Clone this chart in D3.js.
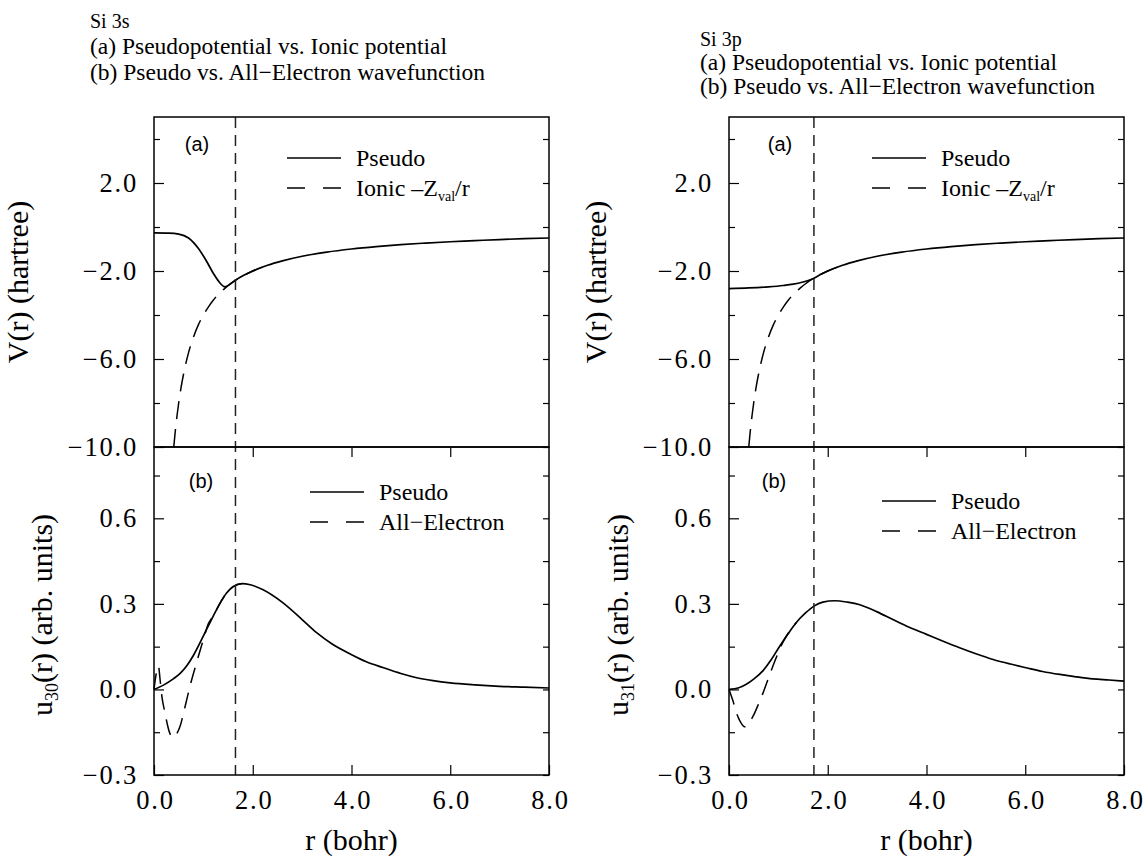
<!DOCTYPE html>
<html>
<head>
<meta charset="utf-8">
<script src="https://cdn.jsdelivr.net/npm/d3@7"></script>
<style>
  body { margin: 0; background: #fff; }
  svg text { font-family: "Liberation Serif", "Times New Roman", serif; fill: #000; }
  svg text.tag { font-family: "Liberation Sans", Arial, sans-serif; }
</style>
</head>
<body>
<svg id="chart" width="1147" height="857"></svg>
<script>
// Si 3s / 3p pseudopotentials and wavefunctions, two columns of stacked panels.

// axes
const rTicks = [0, 2, 4, 6, 8];
const rInner = [2, 4, 6];
const vMajor = [2, -2, -6, -10];
const vMinor = [4, 0, -4, -8];
const uMajor = [0.6, 0.3, 0, -0.3];
const uMinor = [0.75, 0.45, 0.15, -0.15];

// cutoff radii (bohr)
const rc3s = 1.65;
const rc3p = 1.72;

// potentials [r, V]
const ionicV = [[0.40,-10],[0.43,-9.3],[0.47,-8.51],[0.5,-8.0],[0.55,-7.27],[0.6,-6.67],[0.7,-5.71],
  [0.8,-5.0],[0.9,-4.44],[1.0,-4.0],[1.1,-3.64],[1.2,-3.33],[1.3,-3.08],[1.44,-2.78],[1.55,-2.58],
  [1.65,-2.42],[1.8,-2.22],[2.0,-2.0],[2.3,-1.74]];
const pseudoV3s = [[0,-0.27],[0.3,-0.28],[0.5,-0.32],[0.7,-0.5],[0.9,-0.98],[1.05,-1.5],[1.2,-2.1],
  [1.32,-2.5],[1.44,-2.72],[1.55,-2.58],[1.65,-2.42],[1.8,-2.22],[2.0,-2.0],[2.3,-1.74],[2.6,-1.54],
  [3.0,-1.33],[3.5,-1.14],[4.0,-1.0],[4.5,-0.89],[5.0,-0.8],[5.5,-0.73],[6.0,-0.67],[6.5,-0.62],
  [7.0,-0.57],[7.5,-0.53],[8.0,-0.5]];
const pseudoV3p = [[0,-2.8],[0.4,-2.77],[0.8,-2.72],[1.1,-2.66],[1.3,-2.6],[1.5,-2.5],[1.62,-2.42],
  [1.72,-2.33],[1.85,-2.16],[2.0,-2.0],[2.3,-1.74],[2.6,-1.54],[3.0,-1.33],[3.5,-1.14],[4.0,-1.0],
  [4.5,-0.89],[5.0,-0.8],[5.5,-0.73],[6.0,-0.67],[6.5,-0.62],[7.0,-0.57],[7.5,-0.53],[8.0,-0.5]];

// radial wavefunctions [r, u]
const pseudoU30 = [[0,0],[0.2,0.016],[0.39,0.037],[0.53,0.056],[0.66,0.082],[0.8,0.12],[0.93,0.163],
  [1.07,0.212],[1.2,0.257],[1.33,0.3],[1.47,0.338],[1.6,0.36],[1.78,0.371],[1.95,0.367],[2.2,0.35],
  [2.6,0.305],[3.0,0.245],[3.3,0.198],[3.6,0.16],[4.0,0.122],[4.3,0.097],[4.65,0.076],[5.0,0.056],
  [5.3,0.042],[5.65,0.031],[6.0,0.023],[6.5,0.016],[7.0,0.011],[7.5,0.008],[8.0,0.005]];
const aeU30 = [[0,0],[0.04,0.05],[0.09,0.082],[0.12,0.04],[0.16,-0.025],[0.22,-0.08],[0.28,-0.13],
  [0.33,-0.158],[0.39,-0.169],[0.45,-0.158],[0.53,-0.128],[0.63,-0.06],[0.73,0.012],[0.86,0.093],
  [1.0,0.175],[1.1,0.23],[1.2,0.258],[1.33,0.3],[1.47,0.338],[1.6,0.36],[1.78,0.371]];
const pseudoU31 = [[0,0],[0.2,0.006],[0.35,0.018],[0.5,0.036],[0.69,0.066],[0.85,0.103],[1.03,0.152],
  [1.2,0.196],[1.36,0.234],[1.55,0.268],[1.72,0.292],[1.9,0.306],[2.14,0.311],[2.4,0.306],[2.65,0.297],
  [3.0,0.272],[3.32,0.245],[3.65,0.218],[4.0,0.193],[4.35,0.168],[4.67,0.146],[5.0,0.125],[5.35,0.105],
  [5.7,0.089],[6.02,0.076],[6.35,0.063],[6.7,0.0525],[7.0,0.045],[7.37,0.037],[7.7,0.033],[8.0,0.029]];
const aeU31 = [[0,0],[0.08,-0.04],[0.15,-0.082],[0.22,-0.11],[0.32,-0.131],[0.4,-0.118],[0.49,-0.093],
  [0.6,-0.05],[0.69,-0.012],[0.8,0.04],[0.89,0.082],[1.0,0.13],[1.09,0.165],[1.2,0.197],[1.36,0.234]];

// text
const titles3s = ["Si 3s", "(a) Pseudopotential vs. Ionic potential", "(b) Pseudo vs. All\u2212Electron wavefunction"];
const titles3p = ["Si 3p", "(a) Pseudopotential vs. Ionic potential", "(b) Pseudo vs. All\u2212Electron wavefunction"];
const legendV = ["Pseudo", "Ionic \u2013Z"];
const legendU = ["Pseudo", "All\u2212Electron"];

const svg = d3.select('#chart');
const PW = 395, TOP = 117, MID = 447, BOT = 775;
const fmt = d3.format('.1f');

const columns = [
  { x0: 154, titles: titles3s, tx: 90, ty: [28, 54, 80], rc: rc3s, pV: pseudoV3s, iV: ionicV,
    pU: pseudoU30, aU: aeU30, sub: '30', legA: [287, 158], legB: [310, 492],
    labA: [197, 144], labB: [201, 481], ylab: [28, 52] },
  { x0: 729, titles: titles3p, tx: 700, ty: [46, 70, 94], rc: rc3p, pV: pseudoV3p, iV: ionicV,
    pU: pseudoU31, aU: aeU31, sub: '31', legA: [872, 158], legB: [882, 501],
    labA: [780, 144], labB: [774, 481], ylab: [606, 628] }
];

function styleAxis(g) {
  g.select('.domain').remove();
  g.selectAll('.tick line').attr('stroke', '#000').attr('stroke-width', 1.2);
  g.selectAll('.tick text').style('font-size', '26.5px').style('letter-spacing', '1.8px');
}

function legend(x, y, labels, withSub) {
  const g = svg.append('g');
  g.append('line').attr('x1', x).attr('x2', x + 54).attr('y1', y).attr('y2', y)
    .attr('stroke', '#000').attr('stroke-width', 1.5);
  g.append('line').attr('x1', x).attr('x2', x + 54).attr('y1', y + 30).attr('y2', y + 30)
    .attr('stroke', '#000').attr('stroke-width', 1.5).attr('stroke-dasharray', '18,18');
  g.append('text').attr('x', x + 69).attr('y', y + 8).attr('font-size', 24).text(labels[0]);
  const t = g.append('text').attr('x', x + 69).attr('y', y + 38).attr('font-size', 24).text(labels[1]);
  if (withSub) {
    t.append('tspan').attr('font-size', 14).attr('dy', 5).text('val');
    t.append('tspan').attr('dy', -5).text('/r');
  }
}

columns.forEach(c => {
  const x = d3.scaleLinear().domain([0, 8]).range([c.x0, c.x0 + PW]);
  const yV = d3.scaleLinear().domain([-10, 5]).range([MID, TOP]);
  const yU = d3.scaleLinear().domain([-0.3, 0.85]).range([BOT, MID]);

  // titles
  c.titles.forEach((t, i) => svg.append('text').attr('x', c.tx).attr('y', c.ty[i])
    .attr('font-size', i === 0 ? 20 : 23.5).text(t));

  // --- panel (a): potentials
  svg.append('g').attr('transform', `translate(${c.x0},0)`)
    .call(d3.axisLeft(yV).tickValues(vMajor).tickSize(-10).tickPadding(16).tickFormat(fmt))
    .call(styleAxis);
  svg.append('g').attr('transform', `translate(${c.x0},0)`)
    .call(d3.axisLeft(yV).tickValues(vMinor).tickSize(-6).tickFormat(''))
    .call(styleAxis);
  svg.append('g').attr('transform', `translate(${c.x0 + PW},0)`)
    .call(d3.axisRight(yV).tickValues(vMajor.concat(vMinor)).tickSize(-6).tickFormat(''))
    .call(styleAxis);

  const lineV = d3.line().x(d => x(d[0])).y(d => yV(d[1])).curve(d3.curveMonotoneX);
  svg.append('path').datum(c.iV).attr('d', lineV).attr('fill', 'none')
    .attr('stroke', '#000').attr('stroke-width', 1.5).attr('stroke-dasharray', '18,10');
  svg.append('path').datum(c.pV).attr('d', lineV).attr('fill', 'none')
    .attr('stroke', '#000').attr('stroke-width', 1.7);

  // --- panel (b): wavefunctions
  svg.append('g').attr('transform', `translate(${c.x0},0)`)
    .call(d3.axisLeft(yU).tickValues(uMajor).tickSize(-10).tickPadding(16).tickFormat(fmt))
    .call(styleAxis);
  svg.append('g').attr('transform', `translate(${c.x0},0)`)
    .call(d3.axisLeft(yU).tickValues(uMinor).tickSize(-6).tickFormat(''))
    .call(styleAxis);
  svg.append('g').attr('transform', `translate(${c.x0 + PW},0)`)
    .call(d3.axisRight(yU).tickValues(uMajor.concat(uMinor)).tickSize(-6).tickFormat(''))
    .call(styleAxis);
  svg.append('g').attr('transform', `translate(0,${BOT})`)
    .call(d3.axisBottom(x).tickValues(rTicks).tickSize(-10).tickPadding(15).tickFormat(fmt))
    .call(styleAxis)
    .call(g => g.selectAll('.tick text').attr('dx', '1'));
  svg.append('g').attr('transform', `translate(0,${MID})`)
    .call(d3.axisTop(x).tickValues(rInner).tickSize(-10).tickFormat(''))
    .call(styleAxis);

  const lineU = d3.line().x(d => x(d[0])).y(d => yU(d[1])).curve(d3.curveMonotoneX);
  svg.append('path').datum(c.aU).attr('d', lineU).attr('fill', 'none')
    .attr('stroke', '#000').attr('stroke-width', 1.5).attr('stroke-dasharray', '16,10');
  svg.append('path').datum(c.pU).attr('d', lineU).attr('fill', 'none')
    .attr('stroke', '#000').attr('stroke-width', 1.7);

  // cutoff radius
  svg.append('line').attr('x1', x(c.rc)).attr('x2', x(c.rc)).attr('y1', TOP).attr('y2', BOT)
    .attr('stroke', '#222').attr('stroke-width', 1.5).attr('stroke-dasharray', '11,7');

  // frames
  [[TOP, MID], [MID, BOT]].forEach(([a, b]) => svg.append('rect')
    .attr('x', c.x0).attr('y', a).attr('width', PW).attr('height', b - a)
    .attr('fill', 'none').attr('stroke', '#000').attr('stroke-width', 1.5));

  // panel tags
  svg.append('text').attr('class', 'tag').attr('x', c.labA[0]).attr('y', c.labA[1] + 7)
    .attr('text-anchor', 'middle').attr('font-size', 20).text('(a)');
  svg.append('text').attr('class', 'tag').attr('x', c.labB[0]).attr('y', c.labB[1] + 7)
    .attr('text-anchor', 'middle').attr('font-size', 20).text('(b)');

  legend(c.legA[0], c.legA[1], legendV, true);
  legend(c.legB[0], c.legB[1], legendU, false);

  // axis titles
  svg.append('text').attr('transform', `translate(${c.ylab[0]},${(TOP + MID) / 2}) rotate(-90)`)
    .attr('text-anchor', 'middle').attr('font-size', 30).text('V(r) (hartree)');
  const ul = svg.append('text').attr('transform', `translate(${c.ylab[1]},${(MID + BOT) / 2 + 4}) rotate(-90)`)
    .attr('text-anchor', 'middle').attr('font-size', 30).text('u');
  ul.append('tspan').attr('font-size', 18).attr('dy', 6).text(c.sub);
  ul.append('tspan').attr('dy', -6).text('(r) (arb. units)');
  svg.append('text').attr('x', c.x0 + PW / 2).attr('y', 850).attr('text-anchor', 'middle')
    .attr('font-size', 30).text('r (bohr)');
});
</script>
</body>
</html>
